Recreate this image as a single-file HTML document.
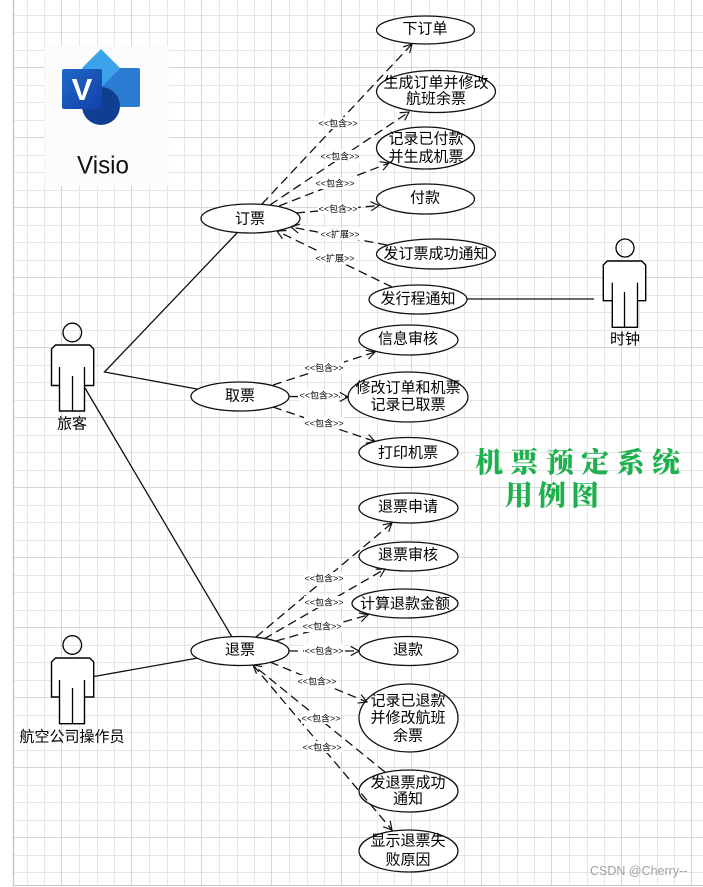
<!DOCTYPE html>
<html><head><meta charset="utf-8"><title>机票预定系统用例图</title>
<style>
html,body{margin:0;padding:0;background:#fff;width:703px;height:887px;overflow:hidden}
svg{display:block}
.t{font-family:"Liberation Sans","WenQuanYi Zen Hei","Noto Sans CJK SC",sans-serif;font-size:15px;fill:#000;text-anchor:middle}
.l{font-family:"Liberation Sans","WenQuanYi Zen Hei","Noto Sans CJK SC",sans-serif;font-size:9px;fill:#000;text-anchor:middle}
.g{font-family:"Liberation Serif","Noto Serif CJK SC",serif;font-weight:900;font-size:28px;fill:#1fb04e}
.d{stroke:#111;stroke-width:1.3;stroke-dasharray:9 5;fill:none}
.s{stroke:#111;stroke-width:1.3;fill:none}
ellipse{fill:#fff;stroke:#111;stroke-width:1.3}
.a{fill:#fff;stroke:#000;stroke-width:1.4}
.w{fill:#fff}
</style></head><body>
<svg width="703" height="887" viewBox="0 0 703 887" xmlns="http://www.w3.org/2000/svg">
<defs>
<pattern id="grid" patternUnits="userSpaceOnUse" x="-9" y="-3" width="70" height="70">
<g shape-rendering="crispEdges" stroke="#e6e6e6" stroke-width="1">
<line x1="18.5" y1="0" x2="18.5" y2="70"/><line x1="36.5" y1="0" x2="36.5" y2="70"/><line x1="53.5" y1="0" x2="53.5" y2="70"/>
<line x1="0" y1="18.5" x2="70" y2="18.5"/><line x1="0" y1="35.5" x2="70" y2="35.5"/><line x1="0" y1="53.5" x2="70" y2="53.5"/>
<line x1="0.5" y1="0" x2="0.5" y2="70" stroke="#d6d6d6"/><line x1="0" y1="0.5" x2="70" y2="0.5" stroke="#d6d6d6"/>
</g></pattern>
<marker id="ar" viewBox="0 0 12 12" refX="11" refY="6" markerWidth="11" markerHeight="11" markerUnits="userSpaceOnUse" orient="auto">
<path d="M2 1 L11 6 L2 11" fill="none" stroke="#111" stroke-width="1.3"/></marker>
<linearGradient id="vg" x1="0" y1="0" x2="1" y2="1"><stop offset="0" stop-color="#1f68c9"/><stop offset="1" stop-color="#1341a8"/></linearGradient>
</defs>

<rect x="14" y="0" width="689" height="885" fill="url(#grid)"/>
<line x1="13.5" y1="0" x2="13.5" y2="886" stroke="#c6c6c6" stroke-width="1.4"/>
<line x1="13" y1="885.5" x2="703" y2="885.5" stroke="#c6c6c6" stroke-width="1"/>

<!-- logo -->
<rect x="44.500" y="46" width="124.500" height="140" fill="#fcfcfc"/>
<polygon points="101,49 120,68 101,87 82,68" fill="#3ba3ea"/>
<path d="M120 68 H138 Q140 68 140 70 V105 Q140 107 138 107 H101 V87 Z" fill="#2b7cd3"/>
<circle cx="101" cy="106" r="19" fill="#103f91"/>
<rect x="62" y="69" width="40" height="40" rx="2" fill="url(#vg)"/>
<text x="82" y="100" text-anchor="middle" font-family="Liberation Sans, sans-serif" font-weight="700" font-size="31" fill="#fff">V</text>
<text x="103" y="173.500" text-anchor="middle" font-family="Liberation Sans, sans-serif" font-size="25" fill="#111" textLength="52" lengthAdjust="spacingAndGlyphs">Visio</text>

<!-- association lines -->
<path class="s" d="M237 233 L104.500 372 L197 389"/>
<path class="s" d="M85 388 L232 637"/>
<path class="s" d="M94 676.500 L198 658"/>
<path class="s" d="M467 299 L594 299"/>

<!-- use cases -->
<ellipse cx="425.500" cy="30" rx="49" ry="14"/>
<ellipse cx="436" cy="91.500" rx="59.500" ry="21"/>
<ellipse cx="425.500" cy="148" rx="49" ry="21"/>
<ellipse cx="425.500" cy="199" rx="49" ry="15"/>
<ellipse cx="436" cy="254" rx="59.500" ry="15"/>
<ellipse cx="418" cy="299.500" rx="49" ry="14.500"/>
<ellipse cx="408.500" cy="340" rx="49.500" ry="15"/>
<ellipse cx="408" cy="397" rx="60" ry="25"/>
<ellipse cx="408.500" cy="452.500" rx="49.500" ry="15"/>
<ellipse cx="250.500" cy="218.500" rx="49.500" ry="14.500"/>
<ellipse cx="240" cy="396.500" rx="49" ry="14.500"/>
<ellipse cx="240" cy="651" rx="49" ry="14.500"/>
<ellipse cx="408.500" cy="508" rx="49.500" ry="15"/>
<ellipse cx="408.500" cy="556.500" rx="49.500" ry="14.500"/>
<ellipse cx="405" cy="603.500" rx="53" ry="14.500"/>
<ellipse cx="408.500" cy="651" rx="49.500" ry="14.500"/>
<ellipse cx="408.500" cy="718" rx="49.500" ry="34"/>
<ellipse cx="408.500" cy="791" rx="49.500" ry="21"/>
<ellipse cx="408.500" cy="851" rx="49.500" ry="21"/>

<!-- dashed connectors -->
<g>
<line class="d" x1="262" y1="204" x2="412" y2="44" marker-end="url(#ar)"/>
<line class="d" x1="270" y1="205" x2="409" y2="112" marker-end="url(#ar)"/>
<line class="d" x1="279" y1="206" x2="389" y2="163" marker-end="url(#ar)"/>
<line class="d" x1="296" y1="213" x2="379" y2="205.500" marker-end="url(#ar)"/>
<line class="d" x1="387" y1="245" x2="291" y2="227" marker-end="url(#ar)"/>
<line class="d" x1="392" y1="287" x2="277" y2="231" marker-end="url(#ar)"/>
<line class="d" x1="273" y1="385" x2="375" y2="352" marker-end="url(#ar)"/>
<line class="d" x1="289" y1="396.500" x2="348" y2="397" marker-end="url(#ar)"/>
<line class="d" x1="273" y1="407" x2="375" y2="441.500" marker-end="url(#ar)"/>
<line class="d" x1="256" y1="637" x2="392" y2="523" marker-end="url(#ar)"/>
<line class="d" x1="264" y1="639" x2="385" y2="569" marker-end="url(#ar)"/>
<line class="d" x1="276" y1="641" x2="368" y2="615" marker-end="url(#ar)"/>
<line class="d" x1="289" y1="651" x2="359" y2="651" marker-end="url(#ar)"/>
<line class="d" x1="270" y1="662" x2="367" y2="702" marker-end="url(#ar)"/>
<line class="d" x1="385" y1="772" x2="253" y2="665" marker-end="url(#ar)"/>
<line class="d" x1="253" y1="665" x2="392" y2="830" marker-end="url(#ar)"/>
</g>

<!-- connector labels -->
<g>
<rect class="w" x="318" y="117" width="40" height="12"/><text class="l" x="338" y="126.500">&lt;&lt;包含&gt;&gt;</text>
<rect class="w" x="320" y="150" width="40" height="12"/><text class="l" x="340" y="159.500">&lt;&lt;包含&gt;&gt;</text>
<rect class="w" x="315" y="177" width="40" height="12"/><text class="l" x="335" y="186.500">&lt;&lt;包含&gt;&gt;</text>
<rect class="w" x="318" y="202" width="40" height="12"/><text class="l" x="338" y="212">&lt;&lt;包含&gt;&gt;</text>
<rect class="w" x="320" y="228" width="40" height="12"/><text class="l" x="340" y="237.500">&lt;&lt;扩展&gt;&gt;</text>
<rect class="w" x="315" y="252" width="40" height="12"/><text class="l" x="335" y="261.500">&lt;&lt;扩展&gt;&gt;</text>
<rect class="w" x="304" y="361" width="40" height="12"/><text class="l" x="324" y="371">&lt;&lt;包含&gt;&gt;</text>
<rect class="w" x="299" y="389" width="40" height="12"/><text class="l" x="319" y="398.500">&lt;&lt;包含&gt;&gt;</text>
<rect class="w" x="304" y="417" width="40" height="12"/><text class="l" x="324" y="426.500">&lt;&lt;包含&gt;&gt;</text>
<rect class="w" x="304" y="572" width="40" height="12"/><text class="l" x="324" y="581.500">&lt;&lt;包含&gt;&gt;</text>
<rect class="w" x="304" y="596" width="40" height="12"/><text class="l" x="324" y="605.500">&lt;&lt;包含&gt;&gt;</text>
<rect class="w" x="302" y="620" width="40" height="12"/><text class="l" x="322" y="629.500">&lt;&lt;包含&gt;&gt;</text>
<rect class="w" x="304" y="644" width="40" height="12"/><text class="l" x="324" y="654">&lt;&lt;包含&gt;&gt;</text>
<rect class="w" x="297" y="675" width="40" height="12"/><text class="l" x="317" y="684.500">&lt;&lt;包含&gt;&gt;</text>
<rect class="w" x="301" y="712" width="40" height="12"/><text class="l" x="321" y="721.500">&lt;&lt;包含&gt;&gt;</text>
<rect class="w" x="302" y="741" width="40" height="12"/><text class="l" x="322" y="750.500">&lt;&lt;包含&gt;&gt;</text>
</g>

<!-- actors -->
<g fill="none" stroke="#000" stroke-width="1.3">
<circle cx="72.300" cy="332.500" r="9.300"/>
<path class="a" d="M55.500 345 H89.700 L93.700 349 V385.500 H84.500 V411 H59.500 V385.500 H51.500 V349 Z"/>
<path d="M59.500 367 V386 M84.500 367 V386 M72.500 376 V411"/>
<circle cx="72.300" cy="645" r="9.300"/>
<path class="a" d="M55.500 658 H89.700 L93.700 662 V697 H84.500 V723.700 H59.500 V697 H51.500 V662 Z"/>
<path d="M59.500 680 V697 M84.500 680 V697 M72.500 688 V723.700"/>
<circle cx="625" cy="248" r="9"/>
<path class="a" d="M607.300 261 H641.700 L645.700 265 V300.700 H637.500 V327.300 H612.300 V300.700 H603.300 V265 Z"/>
<path d="M612.300 282.700 V301 M637.500 282.700 V301 M624.500 292 V327.300"/>
</g>

<!-- use case text -->
<text class="t" x="425" y="33.500">下订单</text>
<text class="t" x="436" y="87.500">生成订单并修改</text><text class="t" x="436" y="103.500">航班余票</text>
<text class="t" x="426" y="143.500">记录已付款</text><text class="t" x="426" y="161.500">并生成机票</text>
<text class="t" x="425" y="202.500">付款</text>
<text class="t" x="436" y="258.500">发订票成功通知</text>
<text class="t" x="418" y="303.500">发行程通知</text>
<text class="t" x="408" y="343.500">信息审核</text>
<text class="t" x="408" y="392.500">修改订单和机票</text><text class="t" x="408" y="409.500">记录已取票</text>
<text class="t" x="408" y="457.500">打印机票</text>
<text class="t" x="250" y="223.500">订票</text>
<text class="t" x="240" y="400.500">取票</text>
<text class="t" x="240" y="654.500">退票</text>
<text class="t" x="408" y="511.500">退票申请</text>
<text class="t" x="408" y="559.500">退票审核</text>
<text class="t" x="405" y="608.500">计算退款金额</text>
<text class="t" x="408" y="654.500">退款</text>
<text class="t" x="408" y="705.500">记录已退款</text><text class="t" x="408" y="722.500">并修改航班</text><text class="t" x="408" y="740.500">余票</text>
<text class="t" x="408" y="787.500">发退票成功</text><text class="t" x="408" y="803.500">通知</text>
<text class="t" x="408" y="845.500">显示退票失</text><text class="t" x="408" y="864.500">败原因</text>
<text class="t" x="625" y="344">时钟</text>
<text class="t" x="72" y="428.500">旅客</text>
<text class="t" x="72" y="741.500">航空公司操作员</text>

<!-- title -->
<text class="g" x="475" y="472" textLength="205" lengthAdjust="spacing">机票预定系统</text>
<text class="g" x="505" y="505" textLength="94" lengthAdjust="spacing">用例图</text>

<!-- watermark -->
<text x="590" y="875" font-family="Liberation Sans, sans-serif" font-size="12.500" fill="#a0a0a0">CSDN @Cherry--</text>
</svg>
</body></html>
